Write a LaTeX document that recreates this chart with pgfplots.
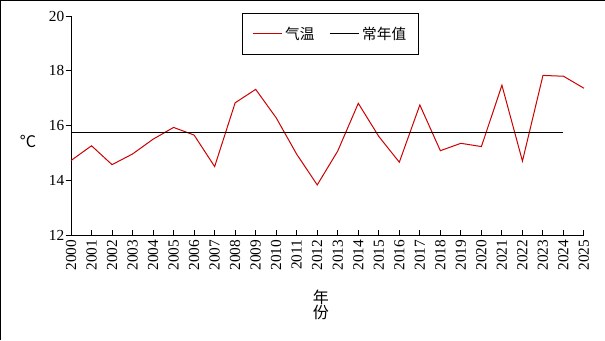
\documentclass[border=0pt]{standalone}
\usepackage{pgfplots}
\pgfplotsset{compat=1.18}
\usepackage{fontspec}
\setmainfont{Liberation Serif}
\newfontfamily\cjk{Noto Sans CJK SC}
\definecolor{tred}{RGB}{204,0,0}
\begin{document}
\begin{tikzpicture}
\path[use as bounding box] (0pt,0pt) rectangle (453.75pt,255pt);
\draw[line width=0.75pt] (0.4pt,0pt) -- (0.4pt,254.6pt) -- (453.75pt,254.6pt);
\begin{axis}[
  at={(53.25pt,78.75pt)}, anchor=origin,
  scale only axis, width=384.75pt, height=164.25pt,
  xmin=2000, xmax=2025, ymin=12, ymax=20,
  axis x line*=bottom, axis y line*=left,
  axis line style={line width=0.75pt, -},
  xtick={2000,...,2025}, ytick={12,14,16,18,20},
  x tick style={line width=0.75pt, black}, y tick style={line width=0.75pt, black},
  xtick align=inside, ytick align=outside,
  major tick length=4pt,
  tick label style={font=\fontsize{11.5}{12}\selectfont},
  y tick label style={xshift=2.5pt},
  /pgf/number format/assume math mode=true,
  x tick label style={rotate=90, anchor=east, /pgf/number format/1000 sep={}},
  clip=false,
  legend style={at={(rel axis cs:0.506,1.014)}, anchor=north, legend columns=2,
    draw=black, line width=0.75pt, font=\cjk\fontsize{11}{12}\selectfont,
    inner xsep=7.5pt, inner ysep=8pt,
    /tikz/every even column/.append style={column sep=9pt}},
  legend cell align=left,
  legend image code/.code={\draw[#1] (0pt,0pt) -- (22pt,0pt);},
]
\addplot[tred, line width=0.75pt] coordinates {
(2000,14.72) (2001,15.26) (2002,14.57) (2003,14.96) (2004,15.50) (2005,15.93)
(2006,15.65) (2007,14.50) (2008,16.83) (2009,17.32) (2010,16.28) (2011,14.95)
(2012,13.83) (2013,15.07) (2014,16.81) (2015,15.60) (2016,14.66) (2017,16.75)
(2018,15.08) (2019,15.35) (2020,15.23) (2021,17.47) (2022,14.70) (2023,17.83)
(2024,17.80) (2025,17.36)};
\addlegendentry{气温}
\addplot[black, line width=0.75pt] coordinates {(2000,15.75) (2024,15.75)};
\addlegendentry{常年值}
\node[font=\cjk\fontsize{12}{13}\selectfont] at (rel axis cs:-0.084,0.425) {°C};
\node[font=\cjk\fontsize{12}{13}\selectfont, align=center, inner sep=0pt] at (rel axis cs:0.487,-0.32) {年\\[-2pt]份};
\end{axis}
\end{tikzpicture}
\end{document}
